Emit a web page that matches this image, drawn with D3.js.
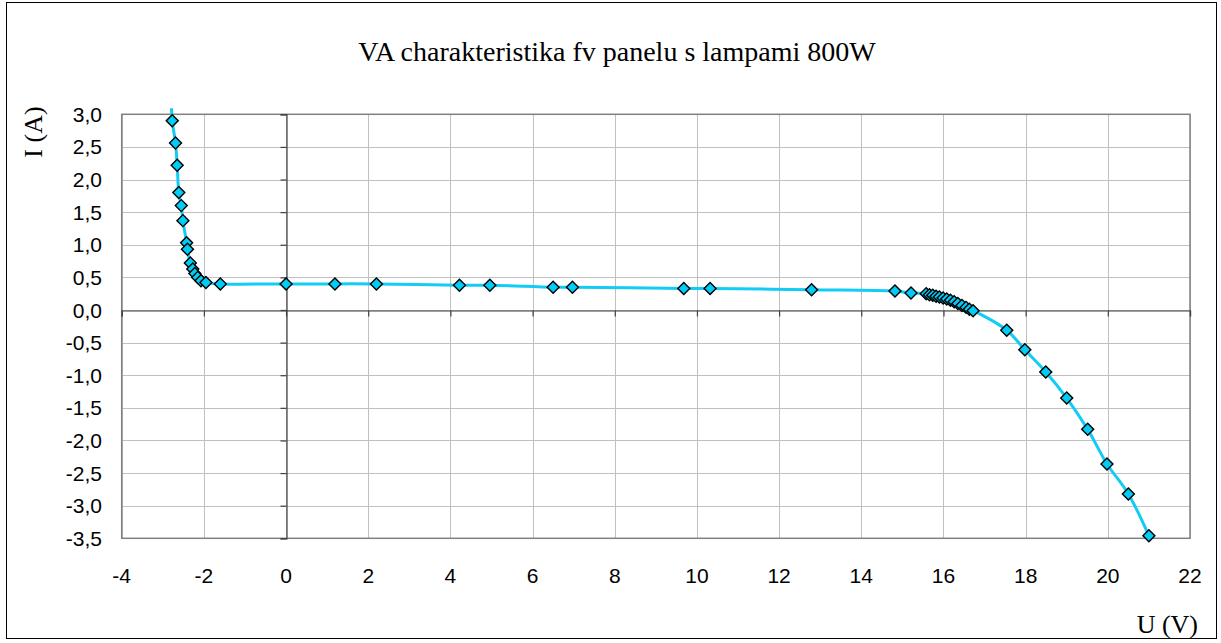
<!DOCTYPE html>
<html>
<head>
<meta charset="utf-8">
<script src="https://cdn.jsdelivr.net/npm/d3@7/dist/d3.min.js"></script>
<style>
  html, body { margin: 0; padding: 0; background: #fff; }
  svg { display: block; }
</style>
</head>
<body>
<svg id="chart" width="1221" height="643"></svg>
<script>
// Measured I-V points of the PV panel under 800 W lamps
const voltage = [
  -2.80, -2.77, -2.69, -2.65, -2.61, -2.55, -2.51, -2.42, -2.40, -2.33, -2.27,
  -2.22, -2.15, -2.07, -1.95, -1.60, 0.00, 1.19, 2.20, 4.22, 4.96, 6.50, 6.97,
  9.68, 10.32, 12.79, 14.82, 15.21, 15.58, 15.66, 15.74, 15.82, 15.90, 15.99,
  16.08, 16.17, 16.26, 16.35, 16.45, 16.55, 16.63, 16.72, 17.54, 17.98, 18.49,
  19.00, 19.51, 19.98, 20.50, 21.00
];
const current = [
  3.30, 2.90, 2.56, 2.22, 1.80, 1.60, 1.37, 1.03, 0.93, 0.72, 0.63,
  0.56, 0.50, 0.45, 0.42, 0.40, 0.40, 0.40, 0.40, 0.38, 0.38, 0.35, 0.35,
  0.33, 0.33, 0.31, 0.29, 0.26, 0.25, 0.235, 0.225, 0.21, 0.20, 0.185,
  0.17, 0.15, 0.125, 0.10, 0.07, 0.04, 0.01, -0.01, -0.31, -0.61, -0.95,
  -1.35, -1.83, -2.36, -2.82, -3.46
];

const xTicks = [-4, -2, 0, 2, 4, 6, 8, 10, 12, 14, 16, 18, 20, 22];
const yTicks = [3.0, 2.5, 2.0, 1.5, 1.0, 0.5, 0.0, -0.5, -1.0, -1.5, -2.0, -2.5, -3.0, -3.5];

const titleText = "VA charakteristika fv panelu s lampami 800W";
const xTitle = "U (V)";
const yTitle = "I (A)";

const points = voltage.map((u, i) => ({ u, i: current[i] }));

const svg = d3.select("#chart");
const plot = { left: 121.7, top: 114.3, right: 1190, bottom: 538.3 };

const x = d3.scaleLinear().domain([-4, 22]).range([plot.left, plot.right]);
const y = d3.scaleLinear().domain([-3.5, 3.0]).range([plot.bottom, plot.top]);

const fmt = v => d3.format(".1f")(v).replace(".", ",").replace("−", "-");

// chart frame
svg.append("rect")
  .attr("x", 6.5).attr("y", 2.5)
  .attr("width", 1210).attr("height", 636)
  .attr("fill", "#fff").attr("stroke", "#000").attr("stroke-width", 1);

// grid
const grid = svg.append("g").attr("stroke", "#c0c0c0").attr("stroke-width", 1);
grid.selectAll("line.v").data(xTicks).join("line")
  .attr("x1", d => Math.round(x(d)) + 0.5).attr("x2", d => Math.round(x(d)) + 0.5)
  .attr("y1", plot.top).attr("y2", plot.bottom);
grid.selectAll("line.h").data(yTicks).join("line")
  .attr("y1", d => Math.round(y(d)) + 0.5).attr("y2", d => Math.round(y(d)) + 0.5)
  .attr("x1", plot.left).attr("x2", plot.right);

// plot area border
svg.append("rect")
  .attr("x", plot.left).attr("y", plot.top)
  .attr("width", plot.right - plot.left).attr("height", plot.bottom - plot.top)
  .attr("fill", "none").attr("stroke", "#808080").attr("stroke-width", 1.5);

// axes crossing at the origin
const xAxis = d3.axisBottom(x).tickValues(xTicks).tickSize(6).tickFormat("");
const yAxis = d3.axisLeft(y).tickValues(yTicks).tickSize(6).tickFormat("");
const axX = svg.append("g").attr("transform", `translate(0,${Math.round(y(0)) + 0.5})`).call(xAxis);
const axY = svg.append("g").attr("transform", `translate(${Math.round(x(0)) + 0.5},0)`).call(yAxis);
[axX, axY].forEach(g => {
  g.select(".domain").attr("stroke", "#404040").attr("stroke-width", 1.2);
  g.selectAll(".tick line").attr("stroke", "#404040").attr("stroke-width", 1.2);
});

// tick labels
const labelFont = "'Liberation Sans', Arial, sans-serif";
svg.append("g").selectAll("text").data(xTicks).join("text")
  .attr("x", d => x(d)).attr("y", 583)
  .attr("text-anchor", "middle")
  .attr("font-family", labelFont).attr("font-size", 21)
  .text(d => String(d));
svg.append("g").selectAll("text").data(yTicks).join("text")
  .attr("x", 102).attr("y", d => y(d)).attr("dy", "0.36em")
  .attr("text-anchor", "end")
  .attr("font-family", labelFont).attr("font-size", 21)
  .text(d => fmt(d));

// titles
const serif = "'Liberation Serif', 'Times New Roman', serif";
svg.append("text")
  .attr("x", 617).attr("y", 61)
  .attr("text-anchor", "middle")
  .attr("font-family", serif).attr("font-size", 28)
  .text(titleText);
svg.append("text")
  .attr("x", 1198).attr("y", 633)
  .attr("text-anchor", "end")
  .attr("font-family", serif).attr("font-size", 26)
  .text(xTitle);
svg.append("text")
  .attr("transform", "translate(42,132) rotate(-90)")
  .attr("text-anchor", "middle")
  .attr("font-family", serif).attr("font-size", 26)
  .text(yTitle);

// series, clipped a little above the plot top
svg.append("clipPath").attr("id", "clip")
  .append("rect")
  .attr("x", plot.left).attr("y", plot.top - 6)
  .attr("width", plot.right - plot.left).attr("height", plot.bottom - plot.top + 14);

const series = svg.append("g").attr("clip-path", "url(#clip)");
const line = d3.line()
  .x(d => x(d.u)).y(d => y(d.i))
  .curve(d3.curveCatmullRom.alpha(0.5));
series.append("path")
  .datum(points)
  .attr("d", line)
  .attr("fill", "none")
  .attr("stroke", "#12CCF6")
  .attr("stroke-width", 3);

series.selectAll("path.m").data(points).join("path")
  .attr("class", "m")
  .attr("d", d3.symbol().type(d3.symbolSquare).size(72)())
  .attr("transform", d => `translate(${x(d.u)},${y(d.i)}) rotate(45)`)
  .attr("fill", "#00CCF5")
  .attr("stroke", "#000")
  .attr("stroke-width", 1.4);
</script>
</body>
</html>
